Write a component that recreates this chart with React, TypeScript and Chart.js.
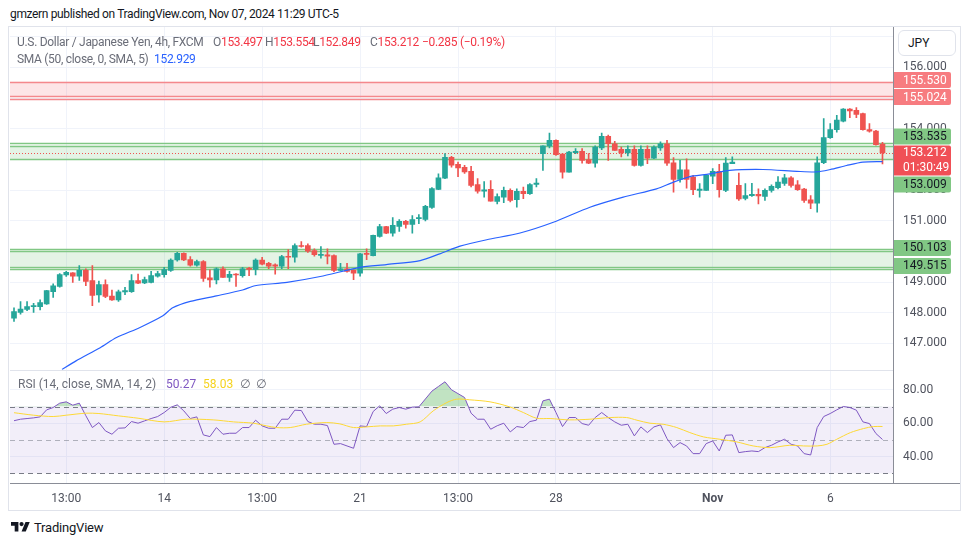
import React, { useEffect, useRef } from "react";
import { Chart, registerables } from "chart.js";
Chart.register(...registerables);

const FONT = 'Roboto, "Noto Sans", "DejaVu Sans", sans-serif';
const UP = "#26a69a";
const DOWN = "#ef5350";

// ---- candles (USD/JPY 4h, FXCM) ----
const opens = [147.82,148.01,148.11,148.2,148.2,148.29,148.69,148.86,149.23,149.3,149.19,149.38,149.05,148.58,148.92,148.54,148.42,148.68,148.69,149.05,148.97,148.99,149.19,149.24,149.38,149.72,149.94,149.73,149.55,149.67,149.14,149.07,149.43,149.15,149.26,149.21,149.45,149.41,149.72,149.61,149.56,149.52,149.84,149.81,150.19,150.19,150.03,149.87,149.89,149.86,149.38,149.43,149.38,149.29,149.94,149.86,150.49,150.81,150.59,150.81,150.98,150.88,151.07,151.04,151.43,152.02,152.39,153.07,152.84,152.74,152.61,152.18,151.96,152.02,151.63,151.77,151.99,151.69,151.96,151.88,152.18,153.19,153.44,153.62,153.17,152.58,153.22,153.26,152.99,152.88,153.37,153.75,153.51,153.33,153.21,153.33,152.8,153.33,153.04,153.37,153.51,152.89,152.35,152.66,152.42,151.99,151.99,152.45,152.61,151.99,152.86,152.15,151.73,151.82,151.86,151.79,151.99,152.08,152.22,152.4,152.17,152.03,151.68,151.57,152.89,153.71,153.97,154.25,154.64,154.6,154.49,153.97,153.92,153.497];
const highs = [148.16,148.36,148.36,148.31,148.42,148.73,148.94,149.28,149.35,149.31,149.54,149.43,149.54,149.03,149.07,148.74,148.74,148.83,149.24,149.26,149.16,149.35,149.35,149.48,149.76,149.97,149.95,149.83,149.72,149.7,149.4,149.46,149.5,149.35,149.28,149.48,149.48,149.76,149.81,149.64,149.59,149.87,150.06,150.25,150.32,150.25,150.08,150.16,150.08,149.89,149.61,149.61,149.4,149.94,150.08,150.53,150.88,150.82,151.1,151.04,151.01,151.17,151.2,151.5,152.08,152.53,153.19,153.1,152.91,152.81,152.77,152.37,152.28,152.31,151.88,152.1,152.04,152.04,152.1,152.21,152.37,153.44,153.86,153.64,153.19,153.26,153.35,153.35,153.19,153.44,153.86,153.79,153.59,153.4,153.44,153.44,153.44,153.44,153.44,153.57,153.62,153.06,152.97,153.02,152.48,152.21,152.5,152.7,152.84,153.06,153.08,152.55,152.21,152.22,152.04,152.04,152.17,152.44,152.51,152.44,152.31,152.06,151.82,153.08,154.33,154.17,154.44,154.66,154.66,154.69,154.51,154.17,153.95,153.554];
const lows = [147.72,147.95,148.07,148.01,148.09,148.27,148.5,148.83,149.18,148.99,149.05,148.88,148.23,148.34,148.49,148.4,148.37,148.59,148.66,148.95,148.95,148.97,149.16,149.16,149.35,149.68,149.7,149.52,149.52,149.02,148.83,148.94,149.15,149.02,148.86,149.16,149.21,149.23,149.56,149.44,149.26,149.44,149.44,149.65,150.14,149.97,149.84,149.78,149.59,149.34,149.37,149.32,149.08,149.19,149.73,149.85,150.46,150.58,150.5,150.65,150.76,150.59,150.9,150.99,151.4,152.01,152.37,152.75,152.44,152.54,152.1,151.9,151.77,151.64,151.55,151.59,151.61,151.44,151.72,151.86,152.1,152.64,153.37,153.13,152.39,152.58,153.19,152.88,152.86,152.75,153.32,152.97,153.29,153.08,153.11,152.78,152.78,152.86,153.02,153.29,152.8,151.93,152.26,152.06,151.85,151.77,151.99,152.21,151.77,151.95,152.86,151.66,151.68,151.79,151.55,151.66,151.93,152.04,152.15,152.09,151.99,151.6,151.39,151.28,152.86,153.68,153.89,154.22,154.36,154.36,153.95,153.89,153.46,152.849];
const closes = [148.04,148.12,148.2,148.23,148.33,148.72,148.88,149.24,149.32,149.19,149.38,149.02,148.56,148.92,148.53,148.42,148.68,148.72,149.05,148.96,149.08,149.21,149.28,149.41,149.72,149.94,149.72,149.55,149.67,149.12,149.07,149.43,149.15,149.25,149.23,149.43,149.41,149.72,149.58,149.52,149.52,149.83,149.81,150.19,150.16,150.01,149.89,149.89,149.84,149.38,149.43,149.35,149.29,149.92,149.9,150.52,150.81,150.59,150.85,150.98,150.88,151.04,151.1,151.47,152.05,152.4,153.07,152.81,152.72,152.59,152.15,151.96,152.01,151.64,151.79,151.99,151.66,151.96,151.88,152.18,152.23,153.44,153.62,153.15,152.58,153.24,153.26,152.97,152.88,153.4,153.75,153.51,153.29,153.21,153.33,152.8,153.33,153.04,153.4,153.51,152.88,152.35,152.66,152.35,152.01,152.03,152.48,152.61,152.01,152.88,152.91,151.71,151.82,151.86,151.81,151.99,152.12,152.26,152.4,152.15,152.01,151.66,151.57,152.89,153.71,153.97,154.28,154.64,154.58,154.47,153.97,153.92,153.48,153.212];

// ---- SMA (50) at sample candles ----
const smaIdx = [7.35,9.5,13.2,15.7,19.3,22.8,24.3,27,31,35,36.9,41.8,46.9,53,57,62.2,65.2,68.3,72.4,77.5,82.6,88.2,93.3,98.4,101,103.5,106.1,109.6,114.7,119.9,122.9,125,127.5,130,133];
const smaVal = [146.15,146.43,146.86,147.19,147.52,147.9,148.16,148.37,148.55,148.74,148.88,148.99,149.18,149.48,149.57,149.7,149.92,150.17,150.38,150.6,150.95,151.44,151.77,152.04,152.26,152.44,152.51,152.64,152.67,152.61,152.59,152.67,152.8,152.91,152.929];

// ---- RSI (14) per candle ----
const rsiVal = [61.5,62.4,62.8,63.2,63.8,68,69.4,72,72.8,70.8,72,64.5,57.4,60.4,55.4,53.4,57,57.2,61,60,61.4,62.8,64,66.4,69.5,71,67.4,62.8,63.8,53,52,57.4,53.4,54,54,57.4,57.4,61.8,58.4,57,57,62.4,62.4,67.8,67.6,61,59.4,59.4,58.6,47.4,47.8,46.4,45,58.4,58,67,70.4,65.8,68.4,69.4,68.4,69.6,69.8,74.5,79.2,82,84.8,80,77.7,75.4,66,62.4,62.4,56.4,58.5,60,54.8,58,57.4,61,61.8,73.4,74.4,66.4,58,63.4,63.4,59.8,58.8,63.4,66.4,63.4,60.8,58.8,59.4,52.4,57.8,54.4,57.8,59,50.8,45.4,48.4,46.4,41.8,41.8,47.8,49.4,43.4,52.8,53,42.4,43,43.4,43,45.4,46.8,48.8,50.4,47.4,46.4,41.8,41,57.4,64,65.8,68,70,69.4,67.8,60.8,59.8,53.8,50.27];
// ---- RSI-based MA (14) read at sample candles ----
const rsiMaIdx = [0,3,6,8,11,13,16,19,23,26.4,30.5,33.6,36.7,38.7,40.2,42.3,44.8,47.9,49.9,52,54,56.1,58.1,60.1,62.2,64.2,66.3,67.8,69.8,72.9,75.9,78,80,82.1,85.1,88.2,91.3,93.8,95.4,97.4,99.4,101.5,103.5,105.6,108.1,110.7,113.2,115.8,118.8,120.9,123,124.5,126,128.1,130.1,131.6,133];
const rsiMaVal = [66.3,64.8,64,64.8,66,65.8,64.4,63,60.8,62.4,62,60.8,60,58.4,57.4,57.4,59.4,60.4,59.6,57.4,57.8,58.4,58.4,59.4,60.8,67.4,72.4,74.4,74,72.8,69.8,66.4,63,62.8,62,62.4,63.4,63.4,61.8,60,59.4,57.4,54.4,51.8,50.4,48.8,46.4,45.4,46.8,46.4,46.4,47.4,50.4,54.4,56.8,58,58.03];

// ---- axes ----
const timeTickIdx = [8, 23, 38, 53, 68, 83, 107, 125];
const timeTickLabels = ["13:00", "14", "13:00", "21", "13:00", "28", "Nov", "6"];
const priceTicks = [147, 148, 149, 150, 151, 152, 153, 154, 155, 156, 157];
const rsiTicks = [40, 60, 80];
const rsiLevels = [70, 50, 30];

// ---- zones ----
const zoneKinds = ["red", "green", "green"];
const zoneFillTop = [155.53, 153.45, 150.01];
const zoneFillBottom = [155.065, 153.009, 149.5];
const zoneLines = [
  [155.53, 155.065, 154.985],
  [153.535, 153.45, 153.009],
  [150.09, 150.01, 149.5, 149.43],
];
const lastPrice = 153.212;

// ---- right-axis labels ----
const axisLabelValues = [155.53, 155.024, 153.535, 153.212, 153.009, 150.103, 149.515];
const axisLabelTexts = ["155.530", "155.024", "153.535", "153.212", "153.009", "150.103", "149.515"];
const axisLabelKinds = ["pink", "pink", "green", "last", "green", "green", "green"];
const countdown = "01:30:49";

const panePlugin = {
  id: "panes",
  beforeDatasetsDraw(chart: any) {
    const { ctx, chartArea: ca, scales } = chart;
    const y = scales.y;
    const r = scales.yRsi;
    const w = ca.right - ca.left;
    ctx.save();
    const p70 = r.getPixelForValue(70);
    const p30 = r.getPixelForValue(30);
    ctx.fillStyle = "rgba(126,87,194,0.1)";
    ctx.fillRect(ca.left, p70, w, p30 - p70);
    ctx.lineWidth = 1;
    ctx.setLineDash([5, 4]);
    rsiLevels.forEach((lv) => {
      const py = Math.round(r.getPixelForValue(lv)) + 0.5;
      ctx.strokeStyle = lv === 50 ? "rgba(120,123,134,0.55)" : "#787b86";
      ctx.beginPath();
      ctx.moveTo(ca.left, py);
      ctx.lineTo(ca.right, py);
      ctx.stroke();
    });
    ctx.setLineDash([]);
    zoneKinds.forEach((k, i) => {
      const t = y.getPixelForValue(zoneFillTop[i]);
      const b = y.getPixelForValue(zoneFillBottom[i]);
      ctx.fillStyle = k === "red" ? "rgba(242,54,69,0.13)" : "rgba(76,175,80,0.15)";
      ctx.fillRect(ca.left, t, w, b - t);
      ctx.strokeStyle = k === "red" ? "#f4888d" : "#81c784";
      ctx.lineWidth = 1.3;
      zoneLines[i].forEach((lv) => {
        const py = Math.round(y.getPixelForValue(lv)) + 0.5;
        ctx.beginPath();
        ctx.moveTo(ca.left, py);
        ctx.lineTo(ca.right, py);
        ctx.stroke();
      });
    });
    ctx.lineWidth = 1;
    ctx.setLineDash([1, 2]);
    ctx.strokeStyle = DOWN;
    const lp = Math.round(y.getPixelForValue(lastPrice)) + 0.5;
    ctx.beginPath();
    ctx.moveTo(ca.left, lp);
    ctx.lineTo(ca.right, lp);
    ctx.stroke();
    ctx.setLineDash([]);
    ctx.strokeStyle = "#e0e3eb";
    ctx.beginPath();
    ctx.moveTo(ca.left, Math.round(r.top) + 0.5);
    ctx.lineTo(ca.right, Math.round(r.top) + 0.5);
    ctx.stroke();
    ctx.restore();
  },
  afterDraw(chart: any) {
    const { ctx, chartArea: ca, scales, width } = chart;
    const y = scales.y;
    ctx.save();
    ctx.strokeStyle = "#8a8d97";
    ctx.lineWidth = 1;
    ctx.beginPath();
    ctx.moveTo(ca.right, Math.round(ca.bottom) + 0.5);
    ctx.lineTo(width, Math.round(ca.bottom) + 0.5);
    ctx.stroke();
    const items = axisLabelValues.map((v, i) => {
      const py = y.getPixelForValue(v);
      const last = axisLabelKinds[i] === "last";
      return { v, text: axisLabelTexts[i], kind: axisLabelKinds[i], h: last ? 30 : 16, top: last ? py - 7.5 : py - 8.3, py };
    });
    items.sort((a, b) => a.py - b.py);
    const ci = items.findIndex((it) => it.kind === "last");
    for (let k = ci - 1; k >= 0; k--) {
      const below = items[k + 1];
      if (items[k].top + items[k].h > below.top - 1) items[k].top = below.top - 1 - items[k].h;
    }
    for (let k = ci + 1; k < items.length; k++) {
      const above = items[k - 1];
      if (items[k].top < above.top + above.h + 1) items[k].top = above.top + above.h + 1;
    }
    const bx = ca.right + 1;
    const bw = 57;
    ctx.font = `12px ${FONT}`;
    ctx.textBaseline = "middle";
    ctx.textAlign = "left";
    items.forEach((it) => {
      const bg = it.kind === "pink" ? "#f77c80" : it.kind === "green" ? "#81c784" : "#f05056";
      const fg = it.kind === "green" ? "#131722" : "#ffffff";
      ctx.fillStyle = bg;
      ctx.beginPath();
      (ctx as any).roundRect(bx, it.top, bw, it.h, [0, 2, 2, 0]);
      ctx.fill();
      ctx.fillStyle = fg;
      if (it.kind === "last") {
        ctx.fillText(it.text, bx + 9, it.top + 8);
        ctx.fillText(countdown, bx + 9, it.top + 23);
      } else {
        ctx.fillText(it.text, bx + 9, it.top + it.h / 2 + 0.5);
      }
    });
    ctx.restore();
  },
};

function T(props: { x: number; y: number; color?: string; size?: number; ls?: number; children: any }) {
  const { x, y, color = "#6a6d78", size = 12, ls = -0.3, children } = props;
  return (
    <div
      style={{
        position: "absolute",
        left: x,
        top: y,
        transform: "translateY(-50%)",
        whiteSpace: "nowrap",
        lineHeight: 1,
        fontSize: size,
        letterSpacing: ls,
        color,
      }}
    >
      {children}
    </div>
  );
}

const fitY = (s: any) => {
  s.width = 67;
  s.paddingTop = 0;
  s.paddingBottom = 0;
};

export default function App() {
  const ref = useRef<HTMLCanvasElement>(null);

  useEffect(() => {
    const canvas = ref.current;
    if (!canvas) return;
    const idx = opens.map((_, i) => i);
    const colors = idx.map((i) => (closes[i] >= opens[i] ? UP : DOWN));
    const tickFont = { size: 12, family: FONT };
    const chart = new Chart(canvas, {
      type: "bar",
      data: {
        datasets: [
          {
            type: "line",
            data: smaIdx.map((x, k) => ({ x, y: smaVal[k] })),
            borderColor: "#2962ff",
            borderWidth: 1.2,
            pointRadius: 0,
            tension: 0.25,
            yAxisID: "y",
            order: 0,
          } as any,
          {
            type: "bar",
            data: idx.map((i) => ({ x: i, y: [lows[i], highs[i]] })),
            backgroundColor: colors,
            barThickness: 1,
            minBarLength: 1,
            grouped: false,
            borderWidth: 0,
            yAxisID: "y",
            order: 2,
          } as any,
          {
            type: "bar",
            data: idx.map((i) => ({ x: i, y: [opens[i], closes[i]] })),
            backgroundColor: colors,
            barThickness: 5,
            minBarLength: 1,
            grouped: false,
            borderWidth: 0,
            yAxisID: "y",
            order: 1,
          } as any,
          {
            type: "line",
            data: rsiMaIdx.map((x, k) => ({ x, y: rsiMaVal[k] })),
            borderColor: "#fdd835",
            borderWidth: 1,
            pointRadius: 0,
            tension: 0.3,
            yAxisID: "yRsi",
            order: 0,
          } as any,
          {
            type: "line",
            data: idx.map((i) => ({ x: i, y: rsiVal[i] })),
            borderColor: "#7e57c2",
            borderWidth: 1,
            pointRadius: 0,
            tension: 0,
            yAxisID: "yRsi",
            fill: { target: { value: 70 }, above: "rgba(76,175,80,0.35)", below: "rgba(0,0,0,0)" },
            order: 0,
          } as any,
        ],
      },
      options: {
        responsive: false,
        animation: false,
        events: [],
        layout: { padding: { left: 1, right: 0, top: 0, bottom: 0 } },
        plugins: { legend: { display: false }, tooltip: { enabled: false } },
        scales: {
          x: {
            type: "linear",
            min: -0.613,
            max: 134.61,
            offset: false,
            grid: { color: "#f0f3fa", offset: false, drawTicks: false },
            border: { display: true, color: "#8a8d97" },
            afterBuildTicks: (s: any) => {
              s.ticks = timeTickIdx.map((v) => ({ value: v }));
            },
            afterFit: (s: any) => {
              s.height = 27;
              s.paddingLeft = 0;
              s.paddingRight = 0;
            },
            ticks: {
              autoSkip: false,
              maxRotation: 0,
              padding: 9,
              color: "#50535e",
              font: (c: any) => ({
                ...tickFont,
                weight: c.tick && timeTickLabels[timeTickIdx.indexOf(c.tick.value)] === "Nov" ? "bold" : "normal",
              }),
              callback: (v: any) => timeTickLabels[timeTickIdx.indexOf(v)] ?? "",
            },
          },
          y: {
            type: "linear",
            position: "right",
            stack: "panes",
            stackWeight: 342,
            min: 146.14,
            max: 157.317,
            grid: { color: "#f0f3fa", drawTicks: false },
            border: { display: true, color: "#8a8d97" },
            afterBuildTicks: (s: any) => {
              s.ticks = priceTicks.map((v) => ({ value: v }));
            },
            afterFit: fitY,
            ticks: {
              padding: 10,
              color: "#50535e",
              font: tickFont,
              callback: (v: any) => Number(v).toFixed(3),
            },
          } as any,
          yRsi: {
            type: "linear",
            position: "right",
            stack: "panes",
            stackWeight: 113,
            min: 24.22,
            max: 92,
            grid: { color: "#f0f3fa", drawTicks: false },
            border: { display: true, color: "#8a8d97" },
            afterBuildTicks: (s: any) => {
              s.ticks = rsiTicks.map((v) => ({ value: v }));
            },
            afterFit: fitY,
            ticks: {
              padding: 10,
              color: "#50535e",
              font: tickFont,
              callback: (v: any) => Number(v).toFixed(2),
            },
          } as any,
        },
      },
      plugins: [panePlugin],
    } as any);
    return () => chart.destroy();
  }, []);

  const red = "#f23645";
  return (
    <div
      style={{
        position: "fixed",
        left: 0,
        top: 0,
        width: 970,
        height: 545,
        background: "#fff",
        fontFamily: FONT,
        overflow: "hidden",
      }}
    >
      <T x={10} y={14} color="#131722" size={12} ls={-0.35}>
        gmzern published on TradingView.com, Nov 07, 2024 11:29 UTC-5
      </T>
      <div
        style={{
          position: "absolute",
          left: 8,
          top: 26,
          width: 953,
          height: 485,
          border: "1px solid #e0e3eb",
          boxSizing: "border-box",
        }}
      />
      <canvas ref={ref} width={951} height={483} style={{ position: "absolute", left: 9, top: 27 }} />
      <T x={17} y={42}>U.S. Dollar / Japanese Yen, 4h, FXCM</T>
      <T x={213} y={42}>
        O<span style={{ color: red }}>153.497</span>
      </T>
      <T x={265} y={42}>
        H<span style={{ color: red }}>153.554</span>
      </T>
      <T x={313} y={42}>
        L<span style={{ color: red }}>152.849</span>
      </T>
      <T x={370} y={42}>
        C<span style={{ color: red }}>153.212</span>
      </T>
      <T x={422} y={42} color={red}>
        −0.285 (−0.19%)
      </T>
      <T x={17} y={59}>SMA (50, close, 0, SMA, 5)</T>
      <T x={154} y={59} color="#2962ff">
        152.929
      </T>
      <T x={18} y={384} ls={0}>RSI (14, close, SMA, 14, 2)</T>
      <T x={166} y={384} color="#7e57c2" ls={0}>
        50.27
      </T>
      <T x={203} y={384} color="#f5d31f" ls={0}>
        58.03
      </T>
      <T x={240} y={384}>∅</T>
      <T x={256} y={384}>∅</T>
      <div
        style={{
          position: "absolute",
          left: 898,
          top: 30,
          width: 58,
          height: 26,
          border: "1px solid #e0e3eb",
          borderRadius: 6,
          background: "#fff",
          boxSizing: "border-box",
          fontSize: 12,
          color: "#131722",
          lineHeight: "24px",
          paddingLeft: 9,
        }}
      >
        JPY
      </div>
      <svg
        style={{ position: "absolute", left: 11, top: 522 }}
        width={19}
        height={9.5}
        viewBox="0 4 36 18"
      >
        <path d="M14 22H7V11H0V4h14v18zM28 22h-8l7.5-18h8L28 22z" fill="#131722" />
        <circle cx="20" cy="8" r="4" fill="#131722" />
      </svg>
      <T x={34} y={527} color="#131722" size={13} ls={-0.2}>
        TradingView
      </T>
    </div>
  );
}
